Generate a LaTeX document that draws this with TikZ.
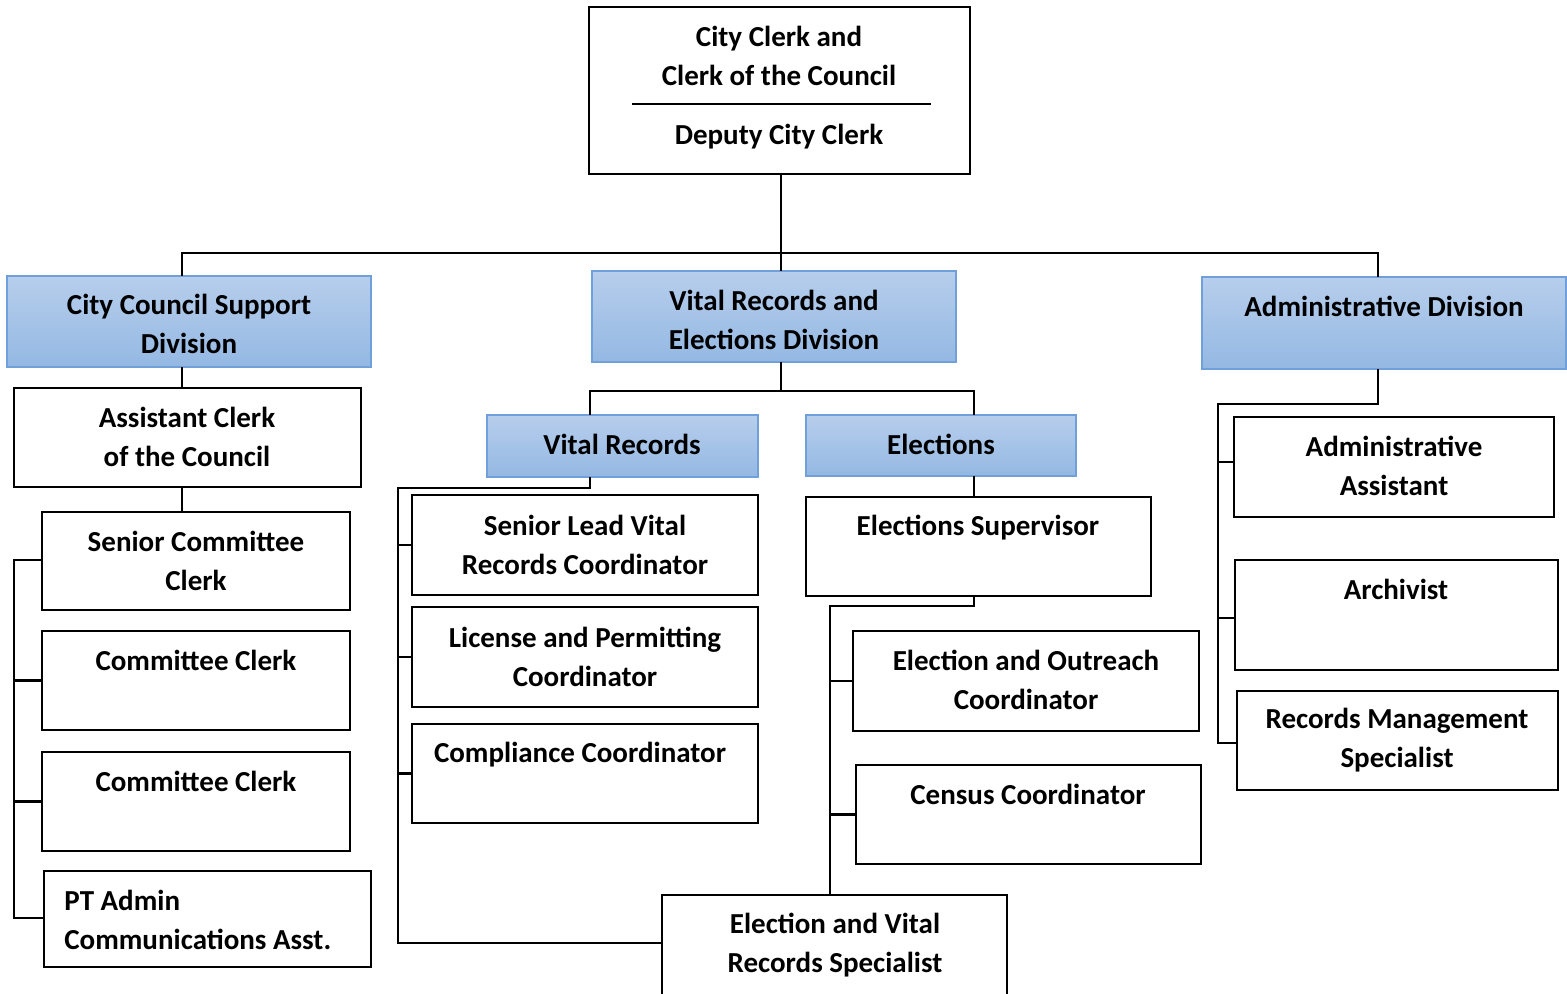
\documentclass[tikz,border=0pt]{standalone}
\usepackage{fontspec}
\setmainfont{Carlito}
\definecolor{divtop}{RGB}{183,206,236}
\definecolor{divbot}{RGB}{148,184,227}
\definecolor{divline}{RGB}{112,160,218}
\newcommand{\bx}[6]{%
  \node[#6, minimum width={(#4-#2)*0.5pt}, minimum height={(#5-#3)*0.5pt}] (#1) at ({(#2+#4)/2},{(#3+#5)/2}) {};}
\tikzset{
  plainbox/.style={draw=black, line width=1pt, fill=white, inner sep=0pt, outer sep=0pt, rectangle},
  divbox/.style={draw=divline, line width=0.6pt, top color=divtop, bottom color=divbot, inner sep=0pt, outer sep=0pt, rectangle},
  conn/.style={draw=black, line width=1.3pt},
  txt/.style={inner sep=0pt, align=center, font=\bfseries\fontsize{14.5pt}{19.5pt}\selectfont},
  txtl/.style={inner sep=0pt, align=left, font=\bfseries\fontsize{14.5pt}{19.5pt}\selectfont}
}
\begin{document}
\begin{tikzpicture}[x=0.5pt,y=-0.5pt]
\useasboundingbox (0,0) rectangle (1567,994);
% coordinates for connector routing
\coordinate (cL) at (182,253);
\coordinate (cR) at (1378,253);
\coordinate (vj) at (781,391);
\coordinate (vjl) at (590,391);
\coordinate (vjr) at (974,391);
\coordinate (lb) at (14,560);
\coordinate (lbe) at (14,918);
\coordinate (vb) at (398,488);
\coordinate (vbe) at (398,943);
\coordinate (eb) at (830,606);
\coordinate (rb) at (1218,404);
\coordinate (rbe) at (1218,743);
\coordinate (ra) at (1218,462);
\coordinate (rc) at (1218,618);

% boxes
\bx{top}{589}{7}{970}{174}{plainbox}
\bx{ccs}{7}{276}{371}{367}{divbox}
\bx{vre}{592}{271}{956}{362}{divbox}
\bx{ad}{1202}{277}{1566}{369}{divbox}
\bx{acc}{14}{388}{361}{487}{plainbox}
\bx{scc}{42}{512}{350}{610}{plainbox}
\bx{cc1}{42}{631}{350}{730}{plainbox}
\bx{cc2}{42}{752}{350}{851}{plainbox}
\bx{pta}{44}{871}{371}{967}{plainbox}
\bx{vr}{487}{415}{758}{477}{divbox}
\bx{el}{806}{415}{1076}{476}{divbox}
\bx{slv}{412}{495}{758}{595}{plainbox}
\bx{lpc}{412}{607}{758}{707}{plainbox}
\bx{cmp}{412}{724}{758}{823}{plainbox}
\bx{evs}{662}{895}{1007}{1002}{plainbox}
\bx{es}{806}{497}{1151}{596}{plainbox}
\bx{eoc}{853}{631}{1199}{731}{plainbox}
\bx{cen}{856}{765}{1201}{864}{plainbox}
\bx{aa}{1234}{417}{1554}{517}{plainbox}
\bx{arc}{1235}{560}{1558}{670}{plainbox}
\bx{rms}{1237}{691}{1558}{790}{plainbox}

% top level
\draw[conn] (top.south -| vj) -- (vj |- cL);
\draw[conn] (cL |- ccs.north) -- (cL) -- (cR) -- (cR |- ad.north);
\draw[conn] (vj |- cL) -- (vj |- vre.north);
% city council support branch
\draw[conn] (cL |- ccs.south) -- (cL |- acc.north);
\draw[conn] (cL |- acc.south) -- (cL |- scc.north);
\draw[conn] (scc.west |- lb) -- (lb) -- (lbe) -- (pta.west |- lbe);
\draw[conn] (lb |- cc1.west) -- (cc1.west);
\draw[conn] (lb |- cc2.west) -- (cc2.west);
% vital records and elections
\draw[conn] (vj |- vre.south) -- (vj);
\draw[conn] (vjl |- vr.north) -- (vjl) -- (vjr) -- (vjr |- el.north);
\draw[conn] (vjl |- vr.south) -- (vjl |- vb) -- (vb) -- (vbe) -- (evs.west |- vbe);
\draw[conn] (vb |- slv.west) -- (slv.west);
\draw[conn] (vb |- lpc.west) -- (lpc.west);
\draw[conn] (vb |- cmp.west) -- (cmp.west);
\draw[conn] (vjr |- el.south) -- (vjr |- es.north);
\draw[conn] (vjr |- es.south) -- (vjr |- eb) -- (eb) -- (eb |- evs.north);
\draw[conn] (eb |- eoc.west) -- (eoc.west);
\draw[conn] (eb |- cen.west) -- (cen.west);
% administrative
\draw[conn] (cR |- ad.south) -- (cR |- rb) -- (rb) -- (rbe) -- (rms.west |- rbe);
\draw[conn] (ra) -- (aa.west |- ra);
\draw[conn] (rc) -- (arc.west |- rc);

% separator line in top box
\coordinate (sepl) at (632,104);
\coordinate (sepr) at (931,104);
\draw[line width=0.6pt] (sepl) -- (sepr);

% texts
\node[txt] (t-top1) at (779,55.5) {City Clerk and\\Clerk of the Council};
\node[txt] (t-top2) at (779,136.5) {Deputy City Clerk};
\node[txt] (t-ccs) at (189,323.5) {City Council Support\\Division};
\node[txt] (t-vre) at (774,319.5) {Vital Records and\\Elections Division};
\node[txt] (t-ad) at (1384,306.5) {Administrative Division};
\node[txt] (t-acc) at (187,436.5) {Assistant Clerk\\of the Council};
\node[txt] (t-scc) at (196,560.5) {Senior Committee\\Clerk};
\node[txt] (t-cc1) at (196,660) {Committee Clerk};
\node[txt] (t-cc2) at (196,781) {Committee Clerk};
\node[txtl, anchor=west] (t-pta) at (64,919.5) {PT Admin\\Communications Asst.};
\node[txt] (t-vr) at (622,444) {Vital Records};
\node[txt] (t-el) at (941,444) {Elections};
\node[txt] (t-slv) at (585,544.5) {Senior Lead Vital\\Records Coordinator};
\node[txt] (t-lpc) at (585,656.5) {License and Permitting\\Coordinator};
\node[txt] (t-cmp) at (580,754.5) {Compliance Coordinator};
\node[txt] (t-evs) at (835,945) {Election and Vital\\Records Specialist};
\node[txt] (t-es) at (978,527.5) {Elections Supervisor};
\node[txt] (t-eoc) at (1026,680) {Election and Outreach\\Coordinator};
\node[txt] (t-cen) at (1028,794.5) {Census Coordinator};
\node[txt] (t-aa) at (1394,466) {Administrative\\Assistant};
\node[txt] (t-arc) at (1396,589.5) {Archivist};
\node[txt] (t-rms) at (1397,740.5) {Records Management\\Specialist};
\end{tikzpicture}
\end{document}
